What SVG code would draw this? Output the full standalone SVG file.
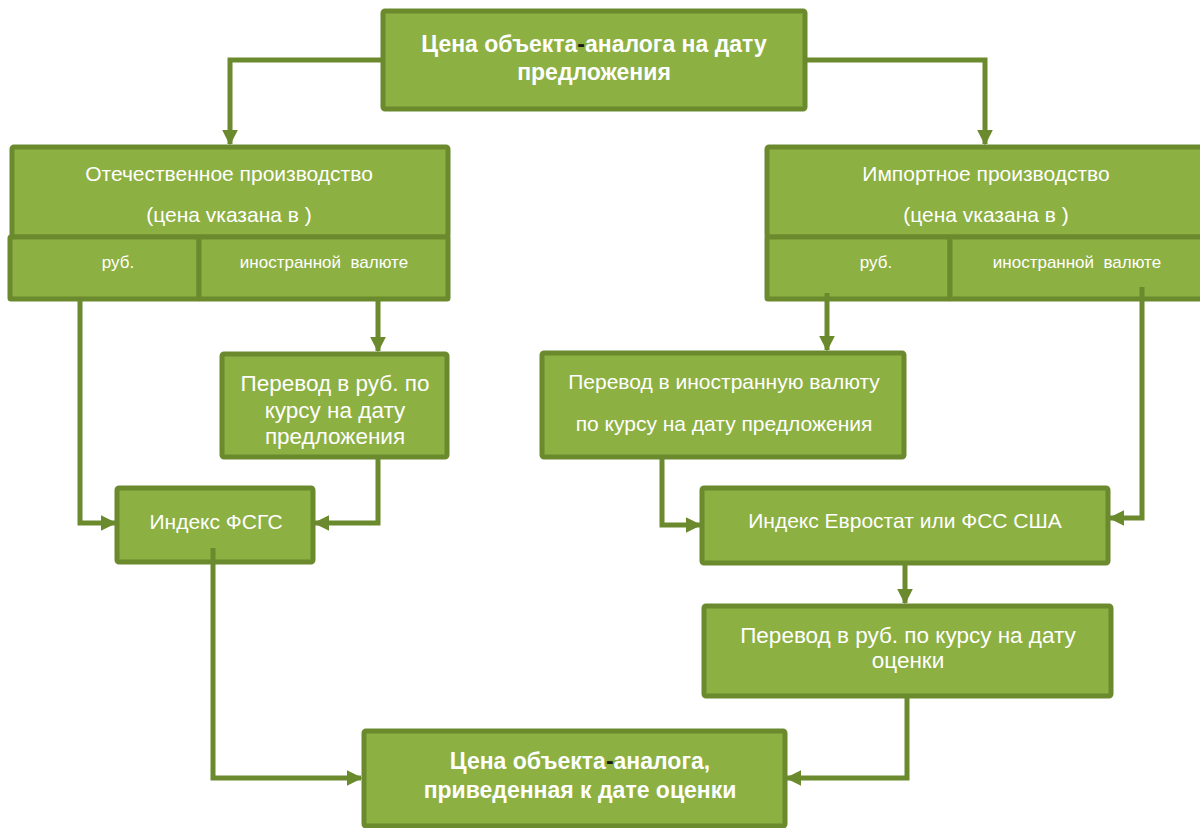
<svg xmlns="http://www.w3.org/2000/svg" width="1200" height="828" viewBox="0 0 1200 828">
<defs>
<style>
.box{fill:#8db043;stroke:#6b8a2e;stroke-width:5}
.t{font-family:"Liberation Sans",Arial,sans-serif;fill:#ffffff;text-anchor:middle;white-space:pre}
.b{font-weight:bold;font-size:23px}
.r{font-size:21px}
.l{font-size:22.5px}
.s{font-size:17px}
.c{fill:none;stroke:#6b8a2e;stroke-width:5}
.dash{fill:#1a1a1a}
</style>
<marker id="ah" viewBox="0 0 10 10" refX="9" refY="5" markerWidth="3.2" markerHeight="3.2" orient="auto" markerUnits="strokeWidth">
<path d="M0,0 L10,5 L0,10 z" fill="#6b8a2e"/>
</marker>
</defs>
<rect width="1200" height="828" fill="#ffffff"/>

<g id="n-top">
<rect class="box" x="383" y="11" width="422" height="98" rx="2"/>
<text class="t b" x="594" y="52">Цена объекта<tspan class="dash">-</tspan>аналога на дату</text>
<text class="t b" x="594" y="80">предложения</text>
</g>

<g id="n-domestic">
<rect class="box" x="12" y="147" width="436" height="90" rx="2"/>
<rect class="box" x="10" y="237" width="189" height="62" rx="1"/>
<rect class="box" x="199" y="237" width="249" height="62" rx="1"/>
<text class="t r" x="229" y="181">Отечественное производство</text>
<text class="t r" x="229" y="222">(цена vказана в )</text>
<text class="t s" x="118" y="268">руб.</text>
<text class="t s" x="324" y="268">иностранной  валюте</text>
</g>

<g id="n-import">
<rect class="box" x="767" y="147" width="436" height="90" rx="2"/>
<rect class="box" x="767" y="237" width="183" height="62" rx="1"/>
<rect class="box" x="950" y="237" width="253" height="62" rx="1"/>
<text class="t r" x="986" y="181">Импортное производство</text>
<text class="t r" x="986" y="222">(цена vказана в )</text>
<text class="t s" x="876" y="268">руб.</text>
<text class="t s" x="1077" y="268">иностранной  валюте</text>
</g>

<g id="n-conv-rub">
<rect class="box" x="222" y="354" width="225" height="103" rx="2"/>
<text class="t l" x="335" y="391">Перевод в руб. по</text>
<text class="t l" x="335" y="418">курсу на дату</text>
<text class="t l" x="335" y="444">предложения</text>
</g>

<g id="n-conv-fx">
<rect class="box" x="542" y="353" width="362" height="104" rx="2"/>
<text class="t r" x="724" y="389">Перевод в иностранную валюту</text>
<text class="t r" x="724" y="431">по курсу на дату предложения</text>
</g>

<g id="n-fsgs">
<rect class="box" x="117" y="488" width="196" height="74" rx="2"/>
<text class="t r" x="216" y="529">Индекс ФСГС</text>
</g>

<g id="n-euro">
<rect class="box" x="702" y="488" width="406" height="75" rx="2"/>
<text class="t r" x="905" y="528">Индекс Евростат или ФСС США</text>
</g>

<g id="n-conv-date">
<rect class="box" x="704" y="606" width="407" height="90" rx="2"/>
<text class="t l" x="908" y="643">Перевод в руб. по курсу на дату</text>
<text class="t l" x="908" y="668">оценки</text>
</g>

<g id="n-final">
<rect class="box" x="364" y="731" width="421" height="95" rx="2"/>
<text class="t b" x="580" y="769">Цена объекта<tspan class="dash">-</tspan>аналога,</text>
<text class="t b" x="580" y="798">приведенная к дате оценки</text>
</g>

<g id="connectors">
<polyline class="c" points="383,60 230,60 230,144" marker-end="url(#ah)"/>
<polyline class="c" points="805,60 985,60 985,144" marker-end="url(#ah)"/>
<polyline class="c" points="80,301 80,523 115,523" marker-end="url(#ah)"/>
<polyline class="c" points="378,301 378,351" marker-end="url(#ah)"/>
<polyline class="c" points="378,458 378,523 315,523" marker-end="url(#ah)"/>
<polyline class="c" points="827,293 827,350" marker-end="url(#ah)"/>
<polyline class="c" points="1142,287 1142,518 1110,518" marker-end="url(#ah)"/>
<polyline class="c" points="662,458 662,525 700,525" marker-end="url(#ah)"/>
<polyline class="c" points="905,564 905,603" marker-end="url(#ah)"/>
<polyline class="c" points="213,548 213,778 361,778" marker-end="url(#ah)"/>
<polyline class="c" points="907,697 907,778 787,778" marker-end="url(#ah)"/>
</g>
</svg>
